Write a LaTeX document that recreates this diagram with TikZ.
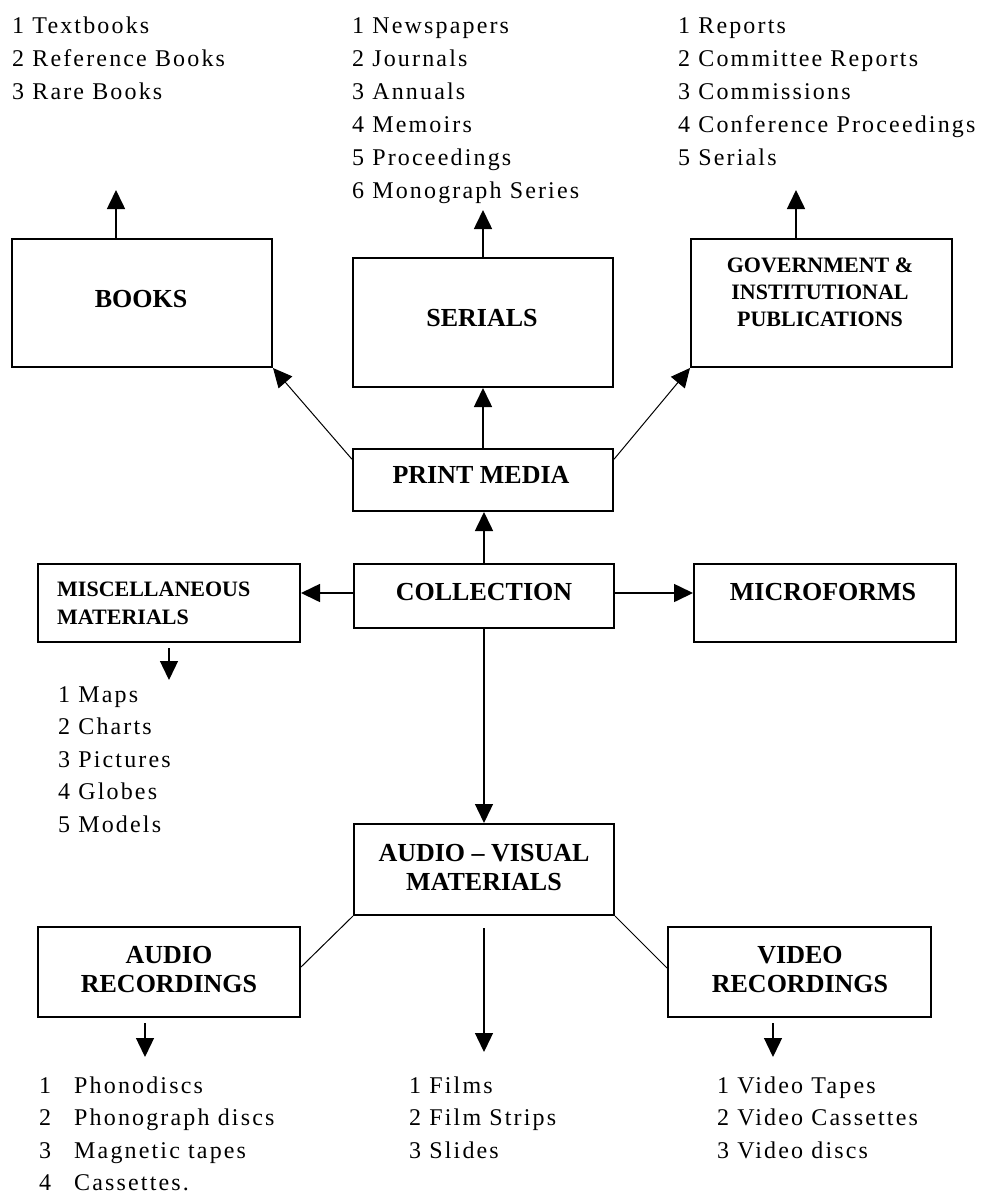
\documentclass[tikz,border=0pt]{standalone}
\usepackage{fontspec}
\setmainfont{Liberation Serif}
\newfontfamily\itemfont[LetterSpace=9]{Liberation Serif}
\usetikzlibrary{arrows.meta,calc}
\begin{document}
\begin{tikzpicture}[x=1pt,y=-1pt,
  box/.style={draw, line width=2pt, inner sep=0pt, rectangle},
  lbl/.style={font=\fontsize{26}{29}\selectfont\bfseries, inner sep=0pt, align=center},
  slbl/.style={font=\fontsize{22}{27}\selectfont\bfseries, inner sep=0pt, align=center},
  item/.style={font=\itemfont\fontsize{24}{30}\selectfont, inner sep=0pt, anchor=base west},
  tip/.style={-{Triangle[length=19pt,width=18pt]}},
  arr/.style={tip, line width=1.6pt},
  darr/.style={tip, line width=1pt},
  thinline/.style={line width=1pt}]
\useasboundingbox (0,0) rectangle (985,1194);
% boxes
\node[box, minimum width=260pt, minimum height=128pt] (books) at (142,303) {};
\node[box, minimum width=260pt, minimum height=129pt] (serials) at (483,322.5) {};
\node[box, minimum width=261pt, minimum height=128pt] (gov) at (821.5,303) {};
\node[box, minimum width=260pt, minimum height=62pt] (print) at (483,480) {};
\node[box, minimum width=260pt, minimum height=64pt] (coll) at (484,596) {};
\node[box, minimum width=262pt, minimum height=78pt] (misc) at (169,603) {};
\node[box, minimum width=262pt, minimum height=78pt] (micro) at (825,603) {};
\node[box, minimum width=260pt, minimum height=91pt] (av) at (484,869.5) {};
\node[box, minimum width=262pt, minimum height=90pt] (audio) at (169,972) {};
\node[box, minimum width=263pt, minimum height=90pt] (video) at (799.5,972) {};
% labels
\node[lbl] (booksT) at (141,299) {BOOKS};
\node[lbl] (serialsT) at (482,318) {SERIALS};
\node[slbl] (govT) at (820,292) {GOVERNMENT \&\\INSTITUTIONAL\\PUBLICATIONS};
\node[lbl] (printT) at (481,475) {PRINT MEDIA};
\node[lbl] (collT) at (484,592) {COLLECTION};
\node[slbl, font=\fontsize{22}{28}\selectfont\bfseries, align=left, anchor=west] (miscT) at (57,603) {MISCELLANEOUS\\MATERIALS};
\node[lbl] (microT) at (823,592) {MICROFORMS};
\node[lbl] (avT) at (484,867.5) {AUDIO – VISUAL\\MATERIALS};
\node[lbl] (audioT) at (169,969.5) {AUDIO\\RECORDINGS};
\node[lbl] (videoT) at (800,969.5) {VIDEO\\RECORDINGS};
% tips of free arrows
\coordinate (btip) at (116,190);
\coordinate (stip) at (483,210);
\coordinate (gtip) at (796,190);
\coordinate (mtip) at (169,680);
\coordinate (atip) at (145,1057);
\coordinate (avtip) at (484,1052);
\coordinate (vdtip) at (773,1057);
% connectors
\draw[darr] (print.171) -- (books.south east);
\draw[darr] (print.9) -- (gov.south west);
\draw[arr] (print.north) -- (serials.south);
\draw[arr] (coll.north) -- (coll.north |- print.south);
\draw[arr] ($(coll.west)+(0,-3)$) -- ($(coll.west -| misc.east)+(0,-3)$);
\draw[arr] ($(coll.east)+(0,-3)$) -- ($(coll.east -| micro.west)+(0,-3)$);
\draw[arr, line width=1.3pt] (coll.south) -- (av.north);
\draw[thinline] (av.south west) -- ($(audio.east)+(0,-5)$);
\draw[thinline] (av.south east) -- ($(video.west)+(0,-4)$);
\draw[arr] (books.north -| btip) -- (btip);
\draw[arr] (serials.north) -- (stip);
\draw[arr] (gov.north -| gtip) -- (gtip);
\draw[arr, line width=1.3pt] ($(misc.south)+(0,5)$) -- (mtip);
\draw[arr, line width=1.3pt] ($(audio.south -| atip)+(0,5)$) -- (atip);
\draw[arr, line width=1.3pt] ($(av.south)+(0,12)$) -- (avtip);
\draw[arr, line width=1.3pt] ($(video.south -| vdtip)+(0,5)$) -- (vdtip);
% lists
\foreach \t [count=\i] in {1 Textbooks,2 Reference Books,3 Rare Books}
  \node[item] (bk\i) at (12,{33*\i}) {\t};
\foreach \t [count=\i] in {1 Newspapers,2 Journals,3 Annuals,4 Memoirs,5 Proceedings,6 Monograph Series}
  \node[item] (se\i) at (352,{33*\i}) {\t};
\foreach \t [count=\i] in {1 Reports,2 Committee Reports,3 Commissions,4 Conference Proceedings,5 Serials}
  \node[item] (go\i) at (678,{33*\i}) {\t};
\foreach \t [count=\i] in {1 Maps,2 Charts,3 Pictures,4 Globes,5 Models}
  \node[item] (mi\i) at (58,{702+32.5*(\i-1)}) {\t};
\foreach \t [count=\i] in {Phonodiscs,Phonograph discs,Magnetic tapes,Cassettes.}
  \node[item] (au\i) at (39,{1093+32.5*(\i-1)}) {\makebox[35pt][l]{\i}\t};
\foreach \t [count=\i] in {1 Films,2 Film Strips,3 Slides}
  \node[item] (fi\i) at (409,{1093+32.5*(\i-1)}) {\t};
\foreach \t [count=\i] in {1 Video Tapes,2 Video Cassettes,3 Video discs}
  \node[item] (vi\i) at (717,{1093+32.5*(\i-1)}) {\t};
\end{tikzpicture}
\end{document}
